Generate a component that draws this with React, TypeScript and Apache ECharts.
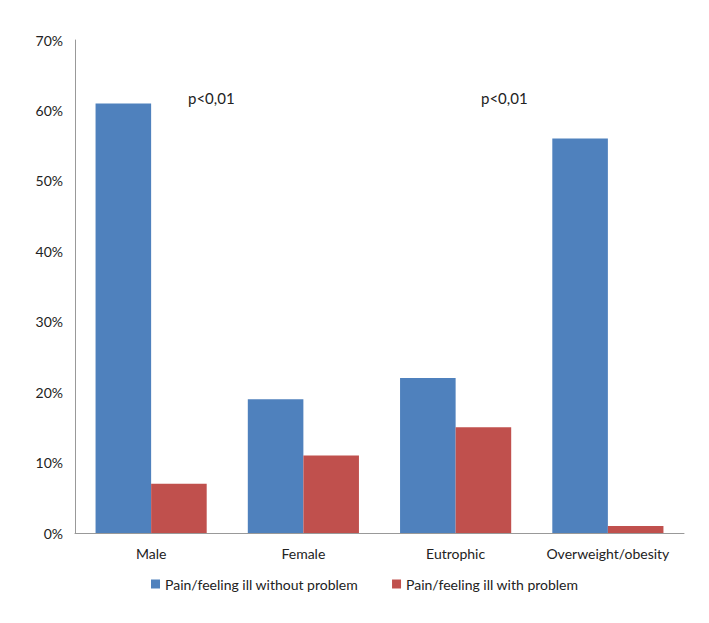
import React, { useEffect, useRef } from "react";
import * as echarts from "echarts";

const categories = ["Male", "Female", "Eutrophic", "Overweight/obesity"];
const withoutProblem = [61, 19, 22, 56];
const withProblem = [7, 11, 15, 1];
const seriesNames = ["Pain/feeling ill without problem", "Pain/feeling ill with problem"];
const annotations = ["p<0,01", "p<0,01"];

export default function App() {
  const ref = useRef<HTMLDivElement>(null);
  useEffect(() => {
    const chart = echarts.init(ref.current!, null, { renderer: "svg" });
    const font = "Lato, 'Open Sans', sans-serif";
    chart.setOption({
      animation: false,
      backgroundColor: "#ffffff",
      textStyle: { fontFamily: font },
      grid: { left: 75, right: 25, top: 40, bottom: 90, containLabel: false },
      legend: {
        bottom: 27,
        left: 146,
        itemWidth: 9,
        itemHeight: 9,
        itemGap: 34,
        icon: "rect",
        textStyle: { fontSize: 14, color: "#222", fontFamily: font },
        data: seriesNames,
      },
      xAxis: {
        type: "category",
        data: categories,
        axisLine: { lineStyle: { color: "#999" } },
        axisTick: { show: false },
        axisLabel: { fontSize: 14, color: "#222", margin: 13, interval: 0 },
      },
      yAxis: {
        type: "value",
        min: 0,
        max: 70,
        interval: 10,
        splitLine: { show: false },
        axisLine: { show: true, lineStyle: { color: "#999" } },
        axisTick: { show: false },
        axisLabel: { fontSize: 14, color: "#222", formatter: "{value}%", margin: 12 },
      },
      series: [
        {
          name: seriesNames[0],
          type: "bar",
          data: withoutProblem,
          itemStyle: { color: "#4F81BD" },
          barGap: "0%",
          barCategoryGap: "27%",
        },
        {
          name: seriesNames[1],
          type: "bar",
          data: withProblem,
          itemStyle: { color: "#C0504D" },
          barGap: "0%",
          barCategoryGap: "27%",
        },
      ],
      graphic: [
        {
          type: "text",
          left: 188,
          top: 90,
          style: { text: annotations[0], fontSize: 15, fill: "#222", fontFamily: font },
        },
        {
          type: "text",
          left: 481,
          top: 90,
          style: { text: annotations[1], fontSize: 15, fill: "#222", fontFamily: font },
        },
      ],
    });
    return () => chart.dispose();
  }, []);
  return <div ref={ref} style={{ width: 709, height: 623, position: "absolute", left: 0, top: 0 }} />;
}
